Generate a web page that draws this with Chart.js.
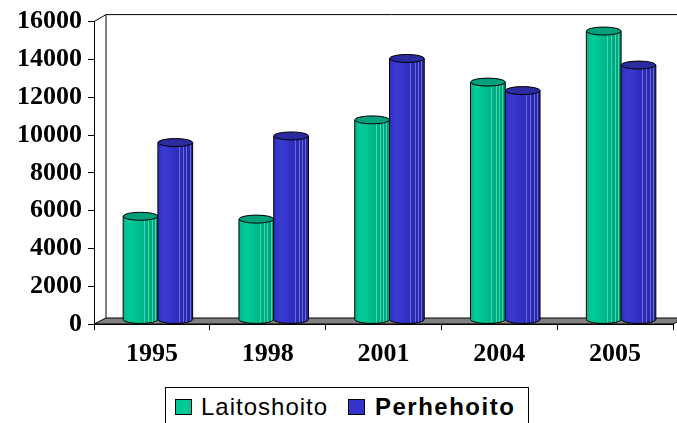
<!DOCTYPE html>
<html>
<head>
<meta charset="utf-8">
<script src="https://cdn.jsdelivr.net/npm/chart.js@4.4.0/dist/chart.umd.min.js"></script>
<style>
  html, body { margin: 0; padding: 0; background: #fff; overflow: hidden; }
  #wrap { position: relative; width: 677px; height: 423px; }
  #legend {
    position: absolute; left: 165px; top: 387px; width: 364px; height: 60px;
    border: 1px solid #000; box-sizing: border-box; background: #fff;
    font-family: "Liberation Sans", Arial, sans-serif; font-size: 24px; line-height: 1;
  }
  #legend .box { position: absolute; top: 11px; width: 17px; height: 16px; border: 1px solid #000; box-sizing: border-box; }
  #legend .txt { position: absolute; top: 7px; white-space: nowrap; color: #000; }
</style>
</head>
<body>
<div id="wrap">
  <canvas id="chart" width="677" height="423"></canvas>
  <div id="legend"></div>
</div>
<script>
// ===== DATA =====
const years = ["1995", "1998", "2001", "2004", "2005"];
const seriesNames = ["Laitoshoito", "Perhehoito"];
const laitoshoito = [5700, 5550, 10800, 12800, 15500];
const perhehoito = [9600, 9950, 14050, 12350, 13700];
const yTicks = [0, 2000, 4000, 6000, 8000, 10000, 12000, 14000, 16000];

// cylinder colours
const palettes = [
  { base: "#00c896", light: "#00cc99", mid: "#00b98b", dark: "#009d78", stripe: "#3fd9b0", top: "#00a07d" },
  { base: "#3333cc", light: "#3a3ad2", mid: "#3030c0", dark: "#26269e", stripe: "#6a6ae0", top: "#2b2ba0" }
];

// 3d depth of the plot box
const DX = 12, DY = -7;

// serif axis text everywhere (y ticks otherwise fall back to the default family)
Chart.defaults.font.family = "'Liberation Serif', 'Times New Roman', serif";
Chart.defaults.font.size = 26;
Chart.defaults.font.weight = "bold";
Chart.defaults.color = "#000";

function drawCylinder(ctx, el, pal) {
  const { x, y, width, base } = el.getProps(["x", "y", "width", "base"], true);
  const l = x - width / 2, r = x + width / 2, rx = width / 2, ry = 4;
  const bottom = base - ry;

  const g = ctx.createLinearGradient(l, 0, r, 0);
  g.addColorStop(0, pal.mid);
  g.addColorStop(0.2, pal.light);
  g.addColorStop(0.5, pal.mid);
  g.addColorStop(1, pal.dark);

  ctx.beginPath();
  ctx.moveTo(l, y);
  ctx.lineTo(l, bottom);
  ctx.ellipse(x, bottom, rx, ry, 0, Math.PI, 0, true);
  ctx.lineTo(r, y);
  ctx.closePath();
  ctx.fillStyle = g;
  ctx.fill();

  // light stripes on the shaded side
  ctx.strokeStyle = pal.stripe;
  ctx.lineWidth = 1;
  [0.6, 0.72, 0.82, 0.91].forEach(f => {
    const sx = Math.round(l + f * width) + 0.5;
    ctx.beginPath();
    ctx.moveTo(sx, y);
    ctx.lineTo(sx, bottom + ry * 0.8);
    ctx.stroke();
  });

  ctx.beginPath();
  ctx.moveTo(l, y);
  ctx.lineTo(l, bottom);
  ctx.ellipse(x, bottom, rx, ry, 0, Math.PI, 0, true);
  ctx.lineTo(r, y);
  ctx.strokeStyle = "#000";
  ctx.stroke();

  // top cap
  ctx.beginPath();
  ctx.ellipse(x, y, rx, ry, 0, 0, Math.PI * 2);
  ctx.fillStyle = pal.top;
  ctx.fill();
  ctx.strokeStyle = "#000";
  ctx.stroke();
}

const box3d = {
  id: "box3d",
  beforeDatasetsDraw(chart) {
    const { ctx, chartArea: a } = chart;
    ctx.save();
    ctx.lineWidth = 1;
    ctx.strokeStyle = "#000";
    // back walls
    ctx.beginPath();
    ctx.moveTo(a.left, a.top);
    ctx.lineTo(a.left + DX, a.top + DY);
    ctx.lineTo(chart.width, a.top + DY);
    ctx.moveTo(a.left + DX, a.top + DY);
    ctx.lineTo(a.left + DX, a.bottom + DY + 1);
    ctx.stroke();
    // floor
    ctx.beginPath();
    ctx.moveTo(a.left, a.bottom);
    ctx.lineTo(a.left + DX, a.bottom + DY + 1);
    ctx.lineTo(a.right + DX, a.bottom + DY + 1);
    ctx.lineTo(a.right, a.bottom);
    ctx.closePath();
    ctx.fillStyle = "#808080";
    ctx.fill();
    ctx.stroke();
    ctx.restore();
  },
  afterDatasetsDraw(chart) {
    const ctx = chart.ctx;
    ctx.save();
    ctx.translate(DX / 2, 0);
    const metas = chart.getSortedVisibleDatasetMetas();
    // draw category by category so neighbours overlap like the original
    for (let i = 0; i < years.length; i++) {
      metas.forEach(m => drawCylinder(ctx, m.data[i], palettes[m.index]));
    }
    ctx.restore();
  }
};

const serifFont = { family: "'Liberation Serif', 'Times New Roman', serif", size: 26, weight: "bold" };

new Chart(document.getElementById("chart"), {
  type: "bar",
  data: {
    labels: years,
    datasets: [
      { label: seriesNames[0], data: laitoshoito, backgroundColor: "rgba(0,0,0,0)", borderWidth: 0 },
      { label: seriesNames[1], data: perhehoito, backgroundColor: "rgba(0,0,0,0)", borderWidth: 0 }
    ]
  },
  options: {
    responsive: false,
    animation: false,
    layout: { padding: { top: 17, right: 4, bottom: 49, left: 0 } },
    datasets: { bar: { categoryPercentage: 0.6, barPercentage: 1.0 } },
    plugins: { legend: { display: false }, tooltip: { enabled: false } },
    scales: {
      x: {
        grid: { drawOnChartArea: false, drawTicks: true, tickLength: 6, color: "#000", offset: true },
        border: { display: true, color: "#000" },
        ticks: { color: "#000", font: { ...serifFont }, padding: 9 },
        afterFit(s) { s.height = 50; }
      },
      y: {
        min: yTicks[0],
        max: yTicks[yTicks.length - 1],
        grid: { drawOnChartArea: false, drawTicks: true, tickLength: 6, color: "#000" },
        border: { display: true, color: "#000" },
        ticks: {
          color: "#000",
          font: { ...serifFont },
          padding: 6,
          stepSize: yTicks[1] - yTicks[0],
          callback: v => String(v)
        },
        afterFit(s) { s.width = 94; }
      }
    }
  },
  plugins: [box3d]
});

// ===== LEGEND =====
const legend = document.getElementById("legend");
const legendPos = [{ box: 9, txt: 35, bold: false }, { box: 182, txt: 209, bold: true }];
seriesNames.forEach((name, i) => {
  const b = document.createElement("span");
  b.className = "box";
  b.style.left = legendPos[i].box + "px";
  b.style.background = palettes[i].base;
  legend.appendChild(b);
  const t = document.createElement("span");
  t.className = "txt";
  t.style.left = legendPos[i].txt + "px";
  t.textContent = name;
  if (legendPos[i].bold) {
    t.style.fontWeight = "bold";
    t.style.letterSpacing = "1.5px";
  } else {
    t.style.letterSpacing = "1px";
  }
  legend.appendChild(t);
});
</script>
</body>
</html>
